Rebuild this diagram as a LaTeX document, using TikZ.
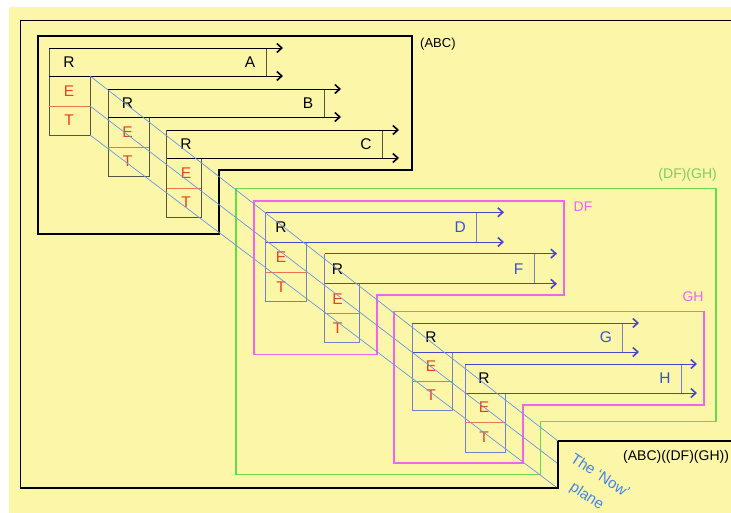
\documentclass[tikz,border=0pt]{standalone}
\usepackage{fontspec}
\setmainfont{Liberation Sans}
\usetikzlibrary{arrows.meta}
\definecolor{bg}{RGB}{252,247,168}
\definecolor{boxk}{RGB}{85,85,65}
\definecolor{boxb}{RGB}{115,128,205}
\definecolor{arrb}{RGB}{70,70,200}
\definecolor{labb}{RGB}{60,80,200}
\definecolor{redt}{RGB}{235,65,30}
\definecolor{sepc}{RGB}{240,115,75}
\definecolor{diagc}{RGB}{105,150,230}
\definecolor{pinkc}{RGB}{240,100,240}
\definecolor{greenc}{RGB}{100,220,70}
\definecolor{greent}{RGB}{125,205,95}
\definecolor{nowc}{RGB}{70,130,230}
\begin{document}
\begin{tikzpicture}[x=1pt,y=-1pt,
  txt/.style={font=\fontsize{15.5}{18}\selectfont, inner sep=0pt},
  lab/.style={font=\fontsize{14}{17}\selectfont, inner sep=0pt},
  thick box/.style={line width=1.7pt, line join=miter},
  kline/.style={draw=boxk, line width=0.8pt},
  bline/.style={draw=boxb, line width=0.8pt},
  sepline/.style={draw=sepc, line width=0.8pt},
  karr/.style={draw=black, line width=0.8pt, -{Straight Barb[length=5pt,width=9pt,line width=1.6pt]}},
  barr/.style={draw=arrb, line width=0.8pt, -{Straight Barb[length=5pt,width=9pt,line width=1.6pt]}},
  diag/.style={draw=diagc, line width=0.7pt}]
\useasboundingbox (0,0) rectangle (731,513);
\clip (0,0) rectangle (731,513);
\fill[bg] (9,7) rectangle (731,513);

% outer box (ABC)((DF)(GH))
\coordinate (oTR) at (740,20.5);
\coordinate (oTL) at (20.5,20.5);
\coordinate (oBL) at (20.5,488);
\coordinate (oBR) at (558,488);
\coordinate (oStep) at (558,441);
\coordinate (oR) at (740,441);
\draw[thick box] (oTR) -- (oTL) -- (oBL) -- (oBR) -- (oStep) -- (oR);
\node[lab, anchor=west] (lall) at (623,457) {(ABC)((DF)(GH))};

% (ABC) box
\draw[thick box] (38,36) -- (412,36) -- (412,170) -- (219,170) -- (219,234) -- (38,234) -- cycle;
\node[lab, anchor=west, font=\fontsize{13}{15}\selectfont] (labc) at (420,44) {(ABC)};

% (DF)(GH) green box
\draw[thick box, draw=greenc, line width=1.4pt] (236,188.6) -- (716,188.6) -- (716,421.7) -- (540.7,421.7) -- (540.7,474.3) -- (236,474.3) -- cycle;
\node[lab, anchor=east, text=greent] (ldfgh) at (717,175) {(DF)(GH)};

% DF pink box
\draw[thick box, draw=pinkc, line width=1.4pt] (254,201) -- (564,201) -- (564,295) -- (377,295) -- (377,354.6) -- (254,354.6) -- cycle;
\node[lab, text=pinkc] (ldf) at (583,207) {DF};

% GH pink box
\draw[thick box, draw=pinkc, line width=1.4pt] (394,311.3) -- (704,311.3) -- (704,405) -- (523,405) -- (523,463) -- (394,463) -- cycle;
\node[lab, text=pinkc] (lgh) at (693,297) {GH};

% black blocks A, B, C
\foreach \n/\xo/\yo/\yi/\xi/\xa/\xe/\ys/\yb/\xr in {
  A/49/48/76/266/283/90/106/135/69,
  B/108/89/117/324/341/149/147/176/127.5,
  C/166.7/130/158/382/399/201.3/188/217/186}{
  \coordinate (tl\n) at (\xo,\yo);
  \coordinate (bl\n) at (\xo,\yi);
  \coordinate (ta\n) at (\xa,\yo);
  \coordinate (ba\n) at (\xa,\yi);
  \coordinate (e1\n) at (\xe,\yi);
  \coordinate (e2\n) at (\xe,\ys);
  \coordinate (e3\n) at (\xe,\yb);
  \coordinate (s1\n) at (\xo,\ys);
  \coordinate (b0\n) at (\xo,\yb);
  \draw[kline] (\xi,\yo) -- (\xi,\yi);
  \draw[kline] (tl\n) -- (b0\n) -- (e3\n) -- (e1\n);
  \draw[sepline] (s1\n) -- (e2\n);
  \draw[karr] (tl\n) -- (ta\n);
  \draw[karr] (bl\n) -- (ba\n);
  \node[txt] (R\n) at (\xr,{(\yo+\yi)/2}) {R};
  \node[txt] (L\n) at (\xi-16,{(\yo+\yi)/2}) {\n};
  \node[txt, text=redt] (E\n) at (\xr,{(\yi+\ys)/2}) {E};
  \node[txt, text=redt] (T\n) at (\xr,{(\ys+\yb)/2}) {T};
}

% blue blocks D, F, G, H
\foreach \n/\xo/\yo/\yi/\xi/\xa/\xe/\ys/\yb/\xr in {
  D/265.7/212.3/242/476.3/504/306.7/272/301.4/281,
  F/324.6/253.6/283.8/534.6/557/359.2/313.6/342.7/337.5,
  G/412/323/352/622/639/452.7/381/410/431,
  H/465/364/393/681/697/505/422/452/484}{
  \coordinate (tl\n) at (\xo,\yo);
  \coordinate (bl\n) at (\xo,\yi);
  \coordinate (ta\n) at (\xa,\yo);
  \coordinate (ba\n) at (\xa,\yi);
  \coordinate (e1\n) at (\xe,\yi);
  \coordinate (e2\n) at (\xe,\ys);
  \coordinate (e3\n) at (\xe,\yb);
  \coordinate (s1\n) at (\xo,\ys);
  \coordinate (b0\n) at (\xo,\yb);
  \draw[bline] (\xi,\yo) -- (\xi,\yi);
  \draw[bline] (tl\n) -- (b0\n) -- (e3\n) -- (e1\n);
  \draw[sepline] (s1\n) -- (e2\n);
  \draw[barr] (tl\n) -- (ta\n);
  \draw[barr] (bl\n) -- (ba\n);
  \node[txt] (R\n) at (\xr,{(\yo+\yi)/2}) {R};
  \node[txt, text=labb] (L\n) at (\xi-16,{(\yo+\yi)/2}) {\n};
  \node[txt, text=redt] (E\n) at (\xr,{(\yi+\ys)/2}) {E};
  \node[txt, text=redt] (T\n) at (\xr,{(\ys+\yb)/2}) {T};
}

% the 'Now' plane
\coordinate (n2) at (557,463);
\coordinate (n3) at (556,487);
\draw[diag] (e1A) -- (oStep);
\draw[diag] (e2A) -- (n2);
\draw[diag] (e3A) -- (n3);
\node[text=nowc, rotate=-33, align=center, inner sep=0pt,
      font=\fontsize{15}{24}\selectfont] (now) at (593.2,486.4) {The ‘Now’\\plane};
\end{tikzpicture}
\end{document}
